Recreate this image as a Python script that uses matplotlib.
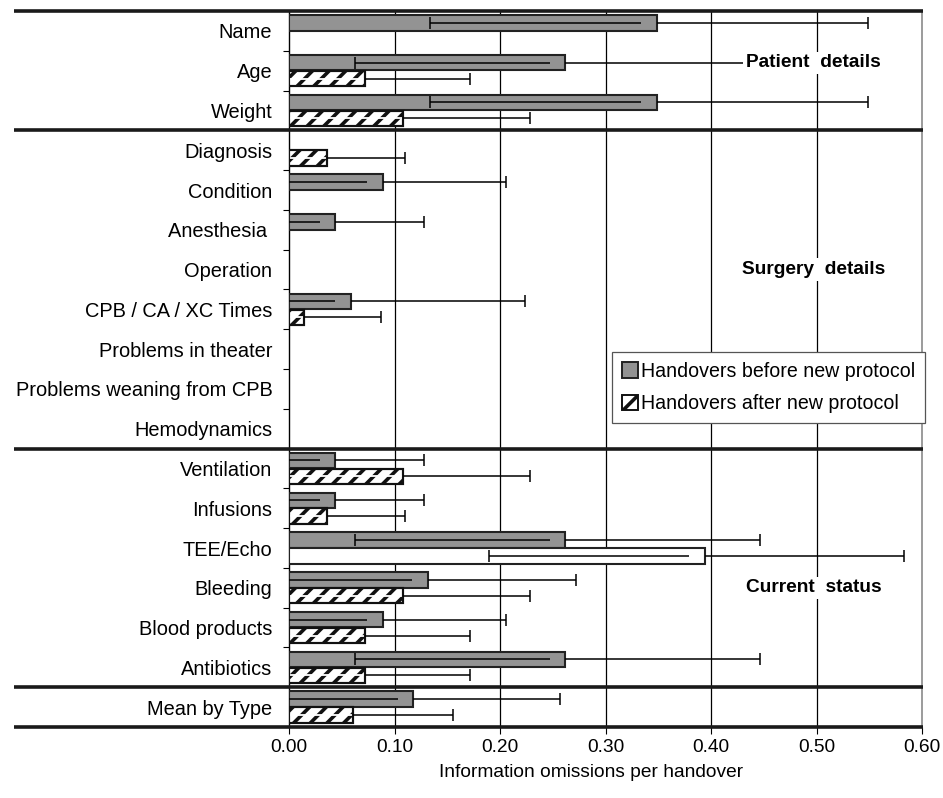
import matplotlib
matplotlib.use("Agg")
import matplotlib.pyplot as plt
from matplotlib.patches import Patch

plt.rcParams['font.family'] = ['Liberation Sans', 'DejaVu Sans']
plt.rcParams['hatch.linewidth'] = 2.6

# Omission items, top to bottom
items = ["Name", "Age", "Weight",
         "Diagnosis", "Condition", "Anesthesia ", "Operation", "CPB / CA / XC Times",
         "Problems in theater", "Problems weaning from CPB", "Hemodynamics",
         "Ventilation", "Infusions", "TEE/Echo", "Bleeding", "Blood products", "Antibiotics",
         "Mean by Type"]

# omissions per handover (mean) and SD
before_mean = [0.349, 0.262, 0.349,
               0.0, 0.089, 0.044, 0.0, 0.059, 0.0, 0.0, 0.0,
               0.044, 0.044, 0.262, 0.132, 0.089, 0.262,
               0.118]
before_sd = [0.200, 0.184, 0.200,
             0.0, 0.117, 0.084, 0.0, 0.165, 0.0, 0.0, 0.0,
             0.084, 0.084, 0.184, 0.140, 0.117, 0.184,
             0.139]
after_mean = [0.0, 0.072, 0.108,
              0.036, 0.0, 0.0, 0.0, 0.014, 0.0, 0.0, 0.0,
              0.108, 0.036, 0.394, 0.108, 0.072, 0.072,
              0.061]
after_sd = [0.0, 0.100, 0.120,
            0.074, 0.0, 0.0, 0.0, 0.073, 0.0, 0.0, 0.0,
            0.120, 0.074, 0.189, 0.120, 0.100, 0.100,
            0.094]

groups = [("Patient  details", 0.8), ("Surgery  details", 6.0), ("Current  status", 14.0)]
separators = [-0.5, 2.5, 10.5, 16.5, 17.5]
x_ticks = [0.0, 0.1, 0.2, 0.3, 0.4, 0.5, 0.6]

GREY = '#939393'
FS = 13.8
LABEL_FS = 14.4
BAR_H = 0.39
SHIFT = 0.015   # lower whisker sits a little left of the bar end
plain_after = {"TEE/Echo"}

fig = plt.figure(figsize=(9.43, 7.98), dpi=100)
ax = fig.add_axes([289 / 943, 1 - 727 / 798, 633 / 943, 716 / 798])


def whisker(y, x0, x1, cap0, cap1, z=5):
    ax.plot([x0, x1], [y, y], color='black', lw=1.1, zorder=z, solid_capstyle='butt')
    for x, cap in ((x0, cap0), (x1, cap1)):
        if cap:
            ax.plot([x], [y], marker='|', ms=8, mew=1.1, color='black', zorder=z)


def draw_bar(y, m, sd, hatched):
    if m <= 0:
        return
    if hatched:
        ax.barh(y, m, height=BAR_H, color='white', edgecolor='#111111', lw=1.5,
                hatch='//', zorder=3)
        ax.plot([0, m], [y, y], color='white', lw=1.3, zorder=3.5, solid_capstyle='butt')
        ax.barh(y, m, height=BAR_H, fill=False, edgecolor='#111111', lw=1.5, zorder=3.6)
    else:
        ax.barh(y, m, height=BAR_H, color=GREY if hatched is None else 'white',
                edgecolor='#222222', lw=1.5, zorder=3)
        lo = m - sd - SHIFT
        whisker(y, max(lo, 0.0), m - SHIFT, lo > 0, False)
    whisker(y, m, m + sd, False, True)


for i, name in enumerate(items):
    draw_bar(i - 0.2, before_mean[i], before_sd[i], None)
    draw_bar(i + 0.2, after_mean[i], after_sd[i], name not in plain_after)

ax.set_xlim(0, 0.6)
ax.set_ylim(len(items) - 0.5, -0.5)

ax.set_yticks(range(len(items)))
ax.set_yticklabels(items, fontsize=LABEL_FS)
ax.set_yticks([i + 0.5 for i in range(len(items) - 1)], minor=True)
ax.tick_params(axis='y', which='major', length=0, pad=12)
ax.tick_params(axis='y', which='minor', length=4, width=0.8, direction='out')

ax.set_xticks(x_ticks)
ax.set_xticklabels([f"{v:.2f}" for v in x_ticks], fontsize=FS)
ax.tick_params(axis='x', length=5, width=0.8, pad=4)
ax.set_xlabel("Information omissions per handover", fontsize=FS, labelpad=6)
ax.xaxis.set_label_coords(0.477, -0.052)

for v in x_ticks[1:-1]:
    ax.axvline(v, color='black', lw=0.9, zorder=1)

for s in ('top', 'bottom'):
    ax.spines[s].set_visible(False)
ax.spines['left'].set_linewidth(1.0)
ax.spines['right'].set_color('#8a8a8a')
ax.spines['right'].set_linewidth(1.2)

# heavy rules between sections, reaching across the label column
for y in separators:
    ax.plot([-0.434, 1.002], [y, y], transform=ax.get_yaxis_transform(),
            color='#1a1a1a', lw=2.6, clip_on=False, zorder=6, solid_capstyle='butt')

for label, y in groups:
    ax.text(0.497, y, label, fontsize=FS, fontweight='bold', ha='center', va='center',
            zorder=7, bbox=dict(facecolor='white', edgecolor='none', pad=2))

handles = [Patch(facecolor=GREY, edgecolor='#222222', lw=1.4),
           Patch(facecolor='white', edgecolor='#111111', lw=1.4, hatch='//')]
leg = ax.legend(handles, ["Handovers before new protocol", "Handovers after new protocol"],
                loc='upper left', bbox_to_anchor=(0.51, 0.524), fontsize=14.1,
                handlelength=0.85, handleheight=0.85, handletextpad=0.15,
                labelspacing=0.7, borderpad=0.5, borderaxespad=0,
                fancybox=False, framealpha=1, edgecolor='#555555')
leg.get_frame().set_linewidth(0.9)
leg.set_zorder(8)

fig.savefig("out.png", dpi=100)
